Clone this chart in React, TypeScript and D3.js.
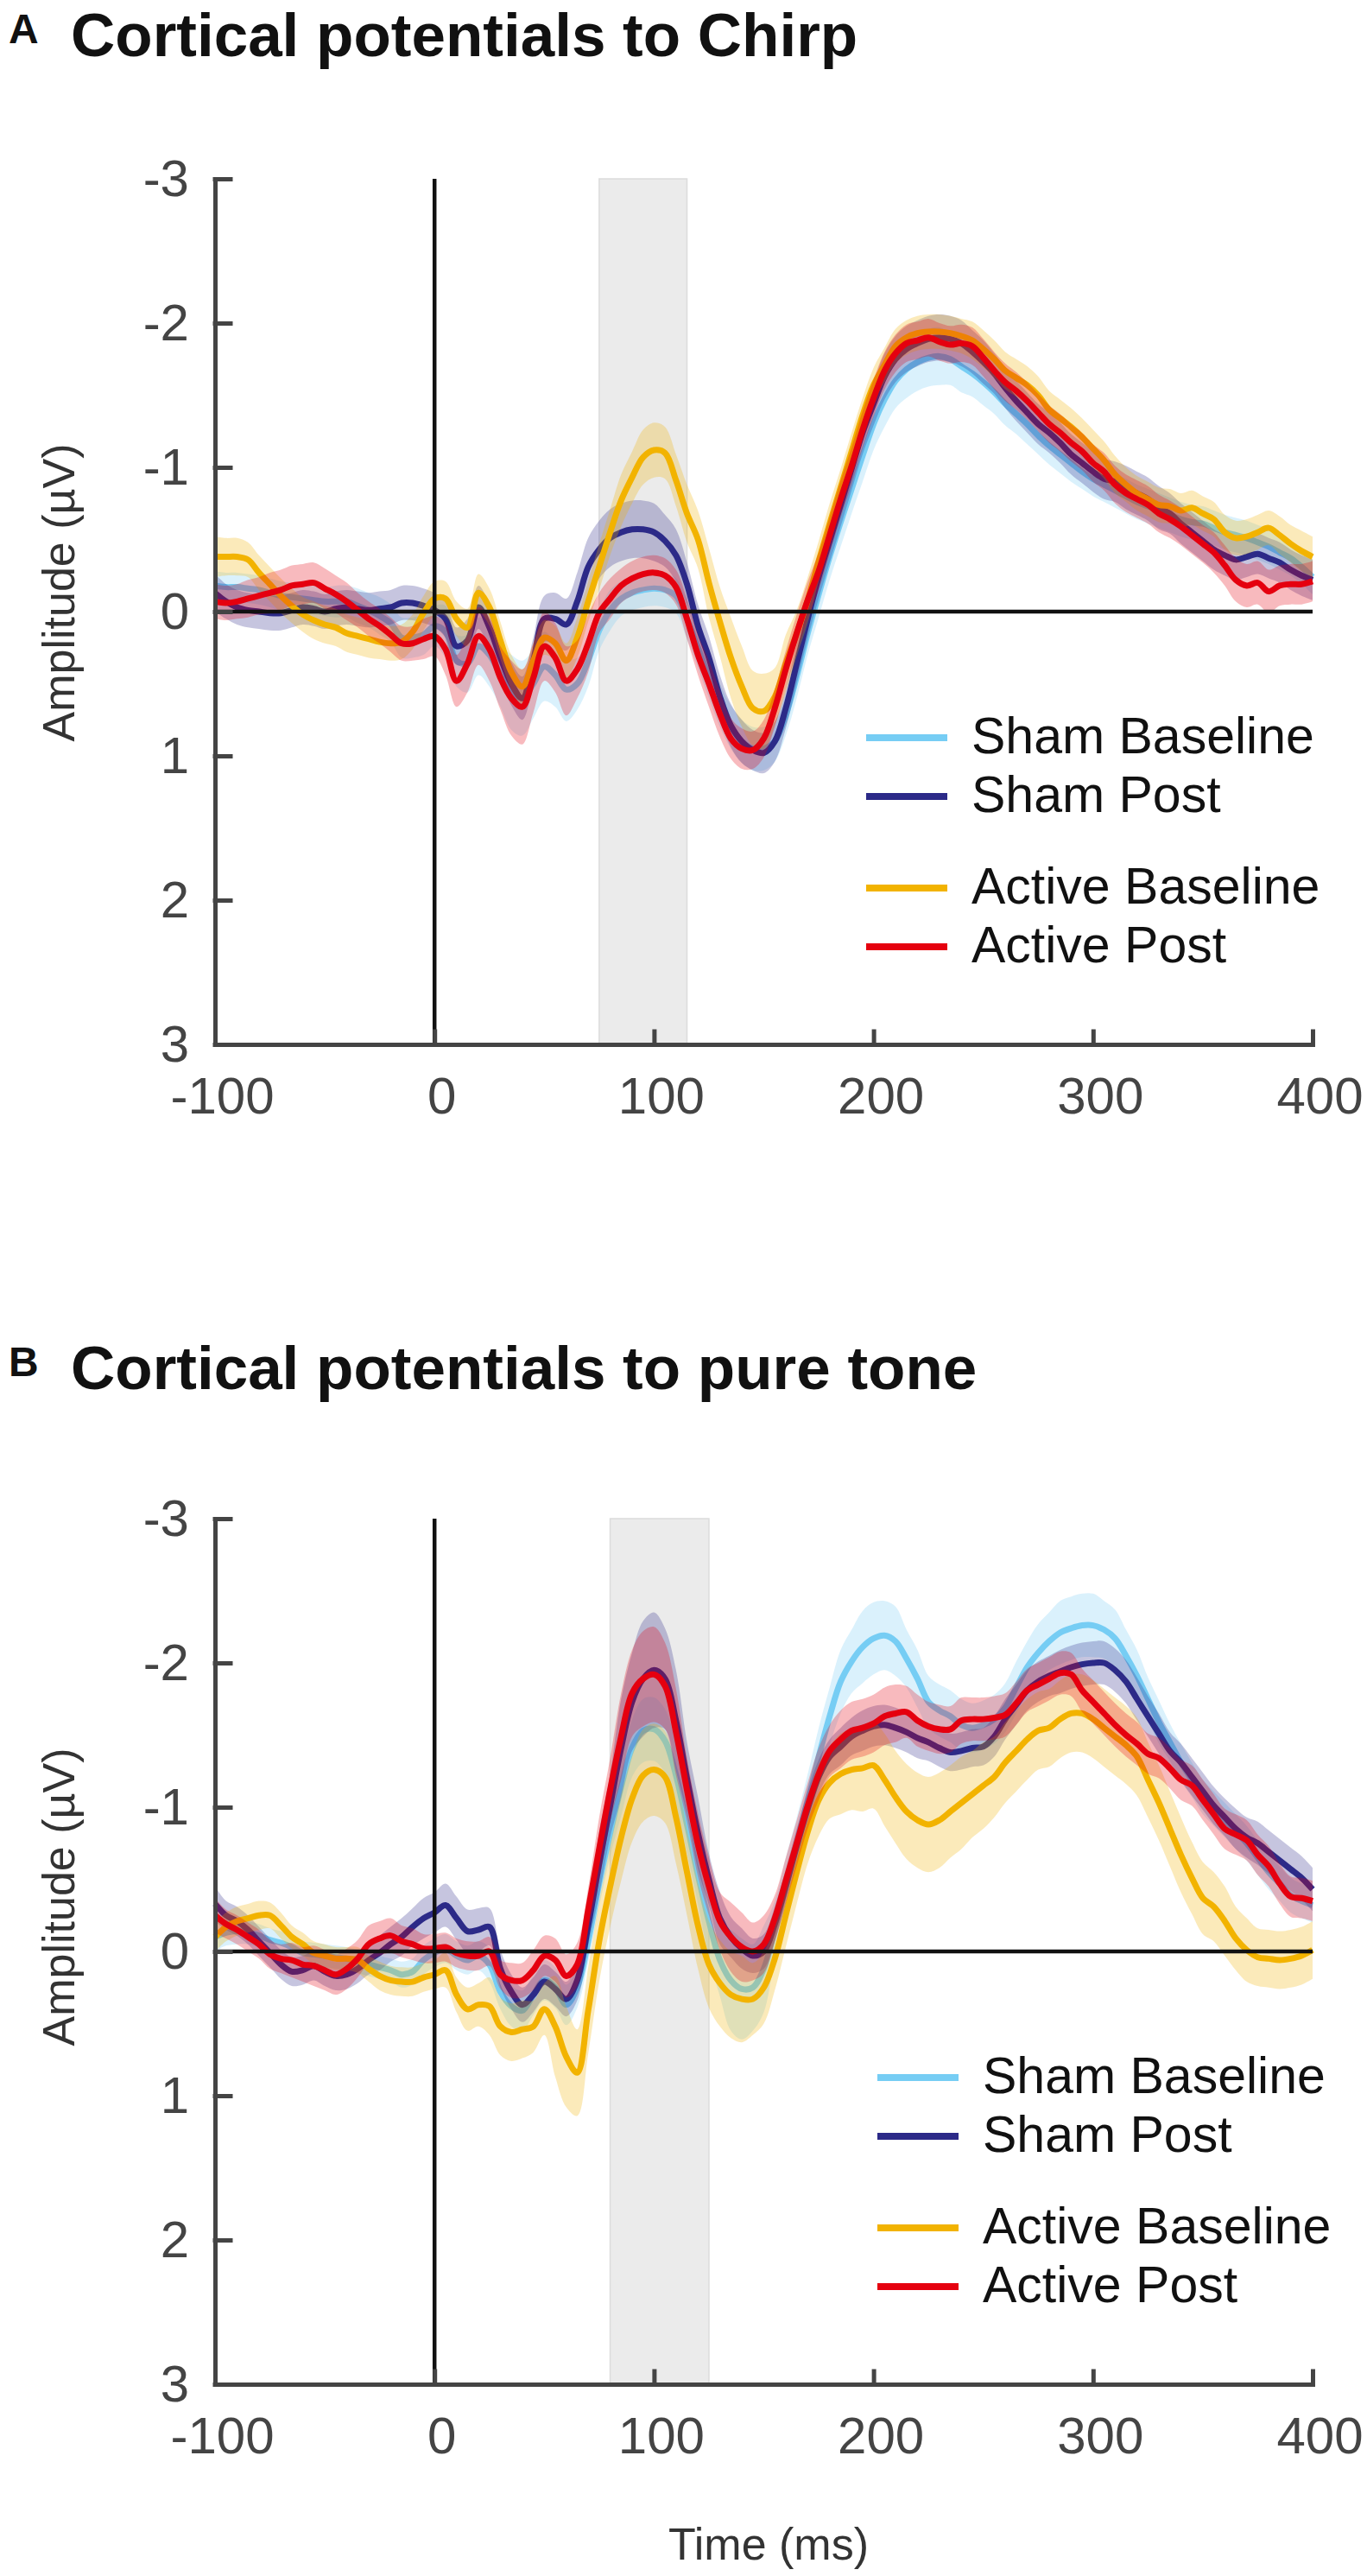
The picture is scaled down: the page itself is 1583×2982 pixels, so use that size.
import { useEffect, useRef } from 'react';
import * as d3 from 'd3';

const FONT = '"Liberation Sans", Arial, Helvetica, sans-serif';

// sample grid of the averaged waveforms (ms)
const time = d3.range(-100, 401, 5);

const seriesNames = ['Sham Baseline', 'Sham Post', 'Active Baseline', 'Active Post'];
const seriesColors = ['#76cdf4', '#2c2a88', '#f2b300', '#e5000f'];
const xTicks = [-100, 0, 100, 200, 300, 400];
const yTicks = [-3, -2, -1, 0, 1, 2, 3];

// ---- A: chirp ----
const shamBaselineA = [
  -0.18, -0.17, -0.17, -0.16, -0.15, -0.13, -0.11, -0.1, -0.09, -0.08,
  -0.07, -0.07, -0.07, -0.04, -0.01, 0.03, 0.08, 0.18, 0.18, 0.16,
  0.1, 0.14, 0.34, 0.36, 0.24, 0.3, 0.44, 0.56, 0.6, 0.5,
  0.38, 0.44, 0.54, 0.5, 0.34, 0.13, -0.01, -0.09, -0.13, -0.15,
  -0.16, -0.15, -0.11, 0.05, 0.25, 0.45, 0.65, 0.8, 0.9, 0.95,
  0.95, 0.9, 0.72, 0.45, 0.15, -0.12, -0.38, -0.62, -0.85, -1.08,
  -1.3, -1.47, -1.6, -1.68, -1.73, -1.76, -1.77, -1.75, -1.7, -1.65,
  -1.59, -1.52, -1.44, -1.37, -1.3, -1.22, -1.15, -1.09, -1.03, -0.97,
  -0.92, -0.88, -0.84, -0.8, -0.76, -0.73, -0.7, -0.67, -0.64, -0.62,
  -0.61, -0.58, -0.55, -0.53, -0.51, -0.48, -0.45, -0.41, -0.37, -0.31,
  -0.24,
];
const shamPostA = [
  -0.13, -0.07, -0.03, -0.01, 0, 0.01, 0.01, -0.01, -0.03, -0.02,
  0, -0.02, -0.03, -0.02, -0.01, -0.02, -0.03, -0.06, -0.06, -0.04,
  -0.01, 0.05, 0.24, 0.2, -0.03, 0.11, 0.32, 0.5, 0.6, 0.34,
  0.05, 0.05, 0.09, -0.07, -0.31, -0.43, -0.51, -0.55, -0.57, -0.57,
  -0.55, -0.49, -0.39, -0.19, 0.1, 0.32, 0.59, 0.79, 0.9, 0.96,
  0.98, 0.9, 0.67, 0.36, 0.05, -0.24, -0.49, -0.74, -0.99, -1.24,
  -1.44, -1.63, -1.75, -1.82, -1.86, -1.89, -1.9, -1.89, -1.86, -1.8,
  -1.73, -1.65, -1.55, -1.46, -1.38, -1.3, -1.24, -1.17, -1.09, -1.03,
  -0.97, -0.92, -0.9, -0.86, -0.82, -0.78, -0.72, -0.68, -0.61, -0.55,
  -0.49, -0.43, -0.39, -0.36, -0.38, -0.4, -0.37, -0.34, -0.29, -0.25,
  -0.22,
];
const activeBaselineA = [
  -0.38, -0.38, -0.38, -0.36, -0.27, -0.19, -0.11, -0.04, 0.02, 0.06,
  0.09, 0.11, 0.15, 0.17, 0.19, 0.21, 0.22, 0.21, 0.14, 0.01,
  -0.09, -0.09, 0.05, 0.11, -0.13, -0.03, 0.2, 0.42, 0.52, 0.34,
  0.18, 0.22, 0.34, 0.18, -0.07, -0.31, -0.55, -0.77, -0.93, -1.07,
  -1.12, -1.1, -0.91, -0.68, -0.5, -0.2, 0.07, 0.32, 0.52, 0.67,
  0.69, 0.59, 0.36, 0.15, -0.08, -0.35, -0.61, -0.86, -1.11, -1.36,
  -1.57, -1.71, -1.84, -1.9, -1.93, -1.94, -1.94, -1.93, -1.91, -1.88,
  -1.82, -1.75, -1.67, -1.62, -1.57, -1.5, -1.4, -1.34, -1.28, -1.21,
  -1.13, -1.05, -0.95, -0.88, -0.82, -0.78, -0.74, -0.73, -0.7, -0.72,
  -0.68, -0.64, -0.55, -0.51, -0.52, -0.55, -0.58, -0.53, -0.47, -0.42,
  -0.38,
];
const activePostA = [
  -0.07, -0.06, -0.07, -0.09, -0.11, -0.13, -0.15, -0.18, -0.19, -0.2,
  -0.16, -0.12, -0.07, -0.01, 0.05, 0.1, 0.16, 0.22, 0.22, 0.19,
  0.17, 0.26, 0.48, 0.36, 0.17, 0.26, 0.46, 0.6, 0.66, 0.46,
  0.24, 0.32, 0.48, 0.4, 0.22, 0.01, -0.09, -0.18, -0.23, -0.26,
  -0.27, -0.25, -0.17, 0.05, 0.3, 0.5, 0.71, 0.88, 0.95, 0.96,
  0.88, 0.67, 0.4, 0.15, -0.08, -0.28, -0.53, -0.78, -1.01, -1.26,
  -1.48, -1.67, -1.79, -1.86, -1.88, -1.9, -1.87, -1.85, -1.86, -1.84,
  -1.76, -1.67, -1.59, -1.53, -1.46, -1.38, -1.3, -1.24, -1.17, -1.11,
  -1.03, -0.97, -0.88, -0.82, -0.78, -0.74, -0.68, -0.64, -0.59, -0.53,
  -0.47, -0.41, -0.32, -0.22, -0.18, -0.2, -0.14, -0.18, -0.19, -0.19,
  -0.21,
];

// error band half-widths, every 10 ms from -100 to 400
const semShamBaselineA = [
  0.1, 0.1, 0.1, 0.1, 0.1, 0.1, 0.11, 0.12, 0.13, 0.14,
  0.14, 0.18, 0.2, 0.22, 0.26, 0.24, 0.22, 0.18, 0.14, 0.12,
  0.12, 0.12, 0.14, 0.15, 0.15, 0.15, 0.14, 0.15, 0.16, 0.17,
  0.18, 0.19, 0.2, 0.2, 0.18, 0.16, 0.15, 0.14, 0.13, 0.13,
  0.12, 0.12, 0.12, 0.12, 0.12, 0.12, 0.12, 0.12, 0.12, 0.12,
  0.12,
];
const semShamPostA = [
  0.13, 0.12, 0.12, 0.12, 0.12, 0.12, 0.12, 0.12, 0.12, 0.12,
  0.12, 0.13, 0.15, 0.16, 0.15, 0.16, 0.18, 0.2, 0.2, 0.2,
  0.2, 0.18, 0.15, 0.15, 0.15, 0.14, 0.14, 0.14, 0.15, 0.15,
  0.15, 0.16, 0.16, 0.16, 0.16, 0.15, 0.14, 0.14, 0.14, 0.14,
  0.14, 0.14, 0.15, 0.15, 0.14, 0.14, 0.14, 0.14, 0.14, 0.14,
  0.14,
];
const semActiveBaselineA = [
  0.14, 0.13, 0.12, 0.12, 0.12, 0.13, 0.13, 0.13, 0.12, 0.12,
  0.12, 0.12, 0.13, 0.13, 0.12, 0.12, 0.12, 0.14, 0.16, 0.18,
  0.19, 0.18, 0.2, 0.24, 0.28, 0.26, 0.2, 0.16, 0.14, 0.13,
  0.12, 0.12, 0.12, 0.12, 0.12, 0.13, 0.13, 0.13, 0.13, 0.13,
  0.13, 0.13, 0.12, 0.12, 0.12, 0.12, 0.12, 0.12, 0.12, 0.13,
  0.14,
];
const semActivePostA = [
  0.12, 0.12, 0.13, 0.14, 0.14, 0.14, 0.13, 0.12, 0.12, 0.12,
  0.14, 0.18, 0.2, 0.22, 0.26, 0.24, 0.24, 0.2, 0.14, 0.12,
  0.12, 0.12, 0.14, 0.16, 0.14, 0.13, 0.13, 0.13, 0.13, 0.13,
  0.13, 0.13, 0.13, 0.13, 0.13, 0.13, 0.13, 0.13, 0.13, 0.13,
  0.13, 0.13, 0.13, 0.13, 0.13, 0.13, 0.14, 0.15, 0.15, 0.14,
  0.14,
];

// ---- B: pure tone ----
const shamBaselineB = [
  -0.1, -0.13, -0.14, -0.13, -0.11, -0.08, -0.06, -0.03, 0.01, 0.02,
  0.03, 0.04, 0.05, 0.07, 0.09, 0.11, 0.13, 0.16, 0.14, 0.06,
  0.01, -0.02, 0.03, 0.06, 0.03, 0.09, 0.28, 0.38, 0.41, 0.3,
  0.2, 0.25, 0.37, 0.25, -0.07, -0.47, -0.82, -1.14, -1.41, -1.53,
  -1.54, -1.46, -1.22, -0.88, -0.53, -0.21, 0.06, 0.2, 0.26, 0.25,
  0.12, -0.15, -0.45, -0.75, -1.05, -1.35, -1.63, -1.87, -2.01, -2.11,
  -2.17, -2.19, -2.15, -2.03, -1.89, -1.73, -1.67, -1.63, -1.57, -1.55,
  -1.57, -1.61, -1.69, -1.83, -1.97, -2.07, -2.15, -2.21, -2.24, -2.26,
  -2.26, -2.23, -2.17, -2.05, -1.91, -1.75, -1.59, -1.45, -1.31, -1.19,
  -1.07, -0.99, -0.91, -0.83, -0.75, -0.65, -0.55, -0.47, -0.39, -0.35,
  -0.32,
];
const shamPostB = [
  -0.33, -0.25, -0.21, -0.15, -0.07, 0.01, 0.09, 0.14, 0.13, 0.1,
  0.14, 0.17, 0.16, 0.12, 0.06, 0.01, -0.05, -0.1, -0.17, -0.23,
  -0.27, -0.32, -0.23, -0.14, -0.15, -0.17, 0.12, 0.28, 0.37, 0.3,
  0.21, 0.26, 0.33, 0.2, -0.18, -0.61, -1.01, -1.41, -1.73, -1.89,
  -1.95, -1.89, -1.6, -1.2, -0.82, -0.5, -0.23, -0.1, -0.02, 0.03,
  0, -0.19, -0.45, -0.73, -0.99, -1.21, -1.35, -1.42, -1.49, -1.53,
  -1.56, -1.57, -1.55, -1.52, -1.48, -1.45, -1.41, -1.38, -1.39, -1.41,
  -1.42, -1.49, -1.61, -1.71, -1.81, -1.87, -1.91, -1.94, -1.97, -1.99,
  -2.0, -2.0, -1.95, -1.87, -1.75, -1.63, -1.51, -1.39, -1.31, -1.21,
  -1.11, -1.01, -0.93, -0.85, -0.79, -0.75, -0.69, -0.63, -0.57, -0.51,
  -0.43,
];
const activeBaselineB = [
  -0.1, -0.17, -0.21, -0.23, -0.25, -0.25, -0.18, -0.1, -0.05, 0.01,
  0.03, 0.05, 0.05, 0.06, 0.12, 0.17, 0.2, 0.21, 0.21, 0.18,
  0.16, 0.13, 0.3, 0.4, 0.37, 0.38, 0.52, 0.56, 0.54, 0.52,
  0.4, 0.52, 0.73, 0.84, 0.41, -0.07, -0.45, -0.79, -1.06, -1.22,
  -1.26, -1.21, -0.93, -0.55, -0.18, 0.09, 0.22, 0.3, 0.33, 0.33,
  0.25, 0.05, -0.25, -0.55, -0.83, -1.05, -1.17, -1.23, -1.26, -1.27,
  -1.29, -1.19, -1.07, -0.97, -0.91, -0.88, -0.91, -0.97, -1.03, -1.09,
  -1.15, -1.21, -1.31, -1.39, -1.47, -1.53, -1.55, -1.61, -1.65, -1.65,
  -1.61, -1.55, -1.49, -1.43, -1.35, -1.19, -1.03, -0.85, -0.67, -0.51,
  -0.37, -0.31, -0.21, -0.09, -0.01, 0.04, 0.05, 0.06, 0.05, 0.03,
  -0.01,
];
const activePostB = [
  -0.25, -0.19, -0.15, -0.1, -0.05, 0.02, 0.05, 0.06, 0.09, 0.1,
  0.13, 0.16, 0.12, 0.05, -0.05, -0.09, -0.11, -0.07, -0.05, -0.02,
  -0.02, -0.03, 0.01, 0.03, 0.03, 0, 0.16, 0.2, 0.2, 0.13,
  0.03, 0.06, 0.17, 0.09, -0.29, -0.71, -1.12, -1.49, -1.79, -1.89,
  -1.92, -1.84, -1.52, -1.12, -0.74, -0.45, -0.21, -0.1, -0.03, 0,
  -0.05, -0.23, -0.49, -0.75, -1.01, -1.23, -1.39, -1.47, -1.53, -1.55,
  -1.58, -1.63, -1.65, -1.66, -1.6, -1.56, -1.54, -1.54, -1.6, -1.61,
  -1.61, -1.62, -1.64, -1.72, -1.81, -1.85, -1.89, -1.93, -1.92, -1.81,
  -1.73, -1.65, -1.57, -1.5, -1.44, -1.37, -1.34, -1.27, -1.19, -1.15,
  -1.05, -0.95, -0.85, -0.81, -0.77, -0.67, -0.59, -0.47, -0.38, -0.37,
  -0.35,
];

const semShamBaselineB = [
  0.1, 0.09, 0.08, 0.08, 0.08, 0.08, 0.08, 0.08, 0.08, 0.09,
  0.1, 0.1, 0.1, 0.12, 0.14, 0.14, 0.14, 0.14, 0.16, 0.2,
  0.22, 0.22, 0.2, 0.25, 0.35, 0.3, 0.2, 0.18, 0.2, 0.22,
  0.25, 0.24, 0.2, 0.18, 0.18, 0.17, 0.17, 0.18, 0.2, 0.22,
  0.22, 0.2, 0.18, 0.15, 0.13, 0.12, 0.12, 0.12, 0.12, 0.12,
  0.12,
];
const semShamPostB = [
  0.12, 0.1, 0.1, 0.1, 0.1, 0.1, 0.1, 0.1, 0.12, 0.13,
  0.14, 0.15, 0.15, 0.13, 0.12, 0.12, 0.12, 0.14, 0.22, 0.34,
  0.4, 0.35, 0.25, 0.18, 0.14, 0.12, 0.12, 0.12, 0.12, 0.13,
  0.14, 0.14, 0.14, 0.13, 0.13, 0.13, 0.14, 0.14, 0.14, 0.15,
  0.15, 0.15, 0.15, 0.14, 0.13, 0.13, 0.13, 0.14, 0.15, 0.15,
  0.15,
];
const semActiveBaselineB = [
  0.1, 0.1, 0.1, 0.09, 0.08, 0.08, 0.08, 0.09, 0.1, 0.1,
  0.1, 0.12, 0.15, 0.2, 0.2, 0.18, 0.35, 0.3, 0.28, 0.3,
  0.32, 0.32, 0.3, 0.3, 0.3, 0.25, 0.22, 0.22, 0.25, 0.28,
  0.3, 0.32, 0.33, 0.33, 0.32, 0.3, 0.28, 0.28, 0.27, 0.27,
  0.27, 0.27, 0.27, 0.26, 0.26, 0.25, 0.24, 0.22, 0.2, 0.2,
  0.2,
];
const semActivePostB = [
  0.12, 0.1, 0.1, 0.1, 0.12, 0.14, 0.14, 0.13, 0.12, 0.11,
  0.1, 0.1, 0.1, 0.1, 0.12, 0.14, 0.15, 0.15, 0.22, 0.3,
  0.33, 0.3, 0.22, 0.2, 0.24, 0.2, 0.16, 0.16, 0.18, 0.2,
  0.2, 0.2, 0.18, 0.17, 0.16, 0.15, 0.15, 0.15, 0.15, 0.15,
  0.15, 0.15, 0.15, 0.14, 0.14, 0.14, 0.14, 0.14, 0.14, 0.14,
  0.14,
];

interface PanelProps {
  top: number;
  letter: string;
  title: string;
  titleY: number;
  means: number[][];
  sems: number[][];
  shade: [number, number];
  legendX: number;
  labelY: number;
  showTime?: boolean;
}

function Panel({ top, letter, title, titleY, means, sems, shade, legendX, labelY, showTime }: PanelProps) {
  const gRef = useRef<SVGGElement>(null);

  useEffect(() => {
    if (!gRef.current) return;
    const g = d3.select(gRef.current);
    g.selectAll('*').remove();

    const x = d3.scaleLinear().domain([-100, 400]).range([249, 1520]);
    const y = d3.scaleLinear().domain([-3, 3]).range([top, top + 1002]);

    // analysis window
    g.append('rect')
      .attr('x', x(shade[0]))
      .attr('width', x(shade[1]) - x(shade[0]))
      .attr('y', y(-3))
      .attr('height', y(3) - y(-3))
      .attr('fill', '#ebebeb')
      .attr('stroke', '#dcdcdc')
      .attr('stroke-width', 1.5);

    // each condition: shaded error band, then its mean
    means.forEach((mean, k) => {
      const sem = sems[k];
      const band = d3
        .area<number>()
        .x((_, i) => x(time[i]))
        .y0((d, i) => y(d - sem[Math.round(i / 2)]))
        .y1((d, i) => y(d + sem[Math.round(i / 2)]))
        .curve(d3.curveCatmullRom);
      g.append('path')
        .datum(mean)
        .attr('d', band)
        .attr('fill', seriesColors[k])
        .attr('fill-opacity', 0.27);

      const line = d3
        .line<number>()
        .x((_, i) => x(time[i]))
        .y((d) => y(d))
        .curve(d3.curveCatmullRom);
      g.append('path')
        .datum(mean)
        .attr('d', line)
        .attr('fill', 'none')
        .attr('stroke', seriesColors[k])
        .attr('stroke-width', 7)
        .attr('stroke-linejoin', 'round');
    });

    // zero reference lines
    g.append('line')
      .attr('x1', x(-100)).attr('x2', x(400))
      .attr('y1', y(0)).attr('y2', y(0))
      .attr('stroke', '#111').attr('stroke-width', 4.5);
    g.append('line')
      .attr('x1', x(0)).attr('x2', x(0))
      .attr('y1', y(-3)).attr('y2', y(3))
      .attr('stroke', '#111').attr('stroke-width', 4.5);

    // axes
    const yAxis = g
      .append('g')
      .attr('transform', `translate(${x(-100)},0)`)
      .call(
        d3.axisLeft(y).tickValues(yTicks).tickSize(-18).tickSizeOuter(0)
          .tickPadding(30).tickFormat((d) => String(d))
      );
    const xAxis = g
      .append('g')
      .attr('transform', `translate(0,${y(3)})`)
      .call(
        d3.axisBottom(x).tickValues(xTicks).tickSize(-15).tickSizeOuter(0)
          .tickPadding(37).tickFormat((d) => String(d))
      );
    xAxis.selectAll('text').attr('dx', 8);
    [yAxis, xAxis].forEach((a) => {
      a.attr('font-family', FONT).attr('font-size', 60).attr('color', '#444');
      a.selectAll('.domain, .tick line')
        .attr('stroke-width', 5)
        .attr('stroke-linecap', 'square');
    });

    // titles
    g.append('text')
      .attr('x', 10).attr('y', titleY - 15)
      .attr('font-family', FONT).attr('font-size', 48).attr('font-weight', 'bold')
      .attr('fill', '#111').text(letter);
    g.append('text')
      .attr('x', 82).attr('y', titleY)
      .attr('font-family', FONT).attr('font-size', 71).attr('font-weight', 'bold')
      .attr('fill', '#111').text(title);

    g.append('text')
      .attr('transform', `translate(86,${labelY}) rotate(-90)`)
      .attr('text-anchor', 'middle')
      .attr('font-family', FONT).attr('font-size', 52)
      .attr('fill', '#333').text('Amplitude (µV)');

    if (showTime) {
      g.append('text')
        .attr('x', 890).attr('y', y(3) + 203)
        .attr('text-anchor', 'middle')
        .attr('font-family', FONT).attr('font-size', 52)
        .attr('fill', '#333').text('Time (ms)');
    }

    // legend
    const legendRows = [647, 715, 821, 889];
    seriesNames.forEach((name, k) => {
      const ly = top + legendRows[k];
      g.append('line')
        .attr('x1', legendX).attr('x2', legendX + 94)
        .attr('y1', ly).attr('y2', ly)
        .attr('stroke', seriesColors[k]).attr('stroke-width', 8);
      g.append('text')
        .attr('x', legendX + 122).attr('y', ly + 18)
        .attr('font-family', FONT).attr('font-size', 59)
        .attr('fill', '#111').text(name);
    });
  }, [top, letter, title, titleY, means, sems, shade, legendX, labelY, showTime]);

  return <g ref={gRef} />;
}

export default function App() {
  return (
    <svg
      width={1583}
      height={2982}
      viewBox="0 0 1583 2982"
      style={{ position: 'absolute', left: 0, top: 0, background: '#fff' }}
    >
      <Panel
        top={207}
        letter="A"
        title="Cortical potentials to Chirp"
        titleY={65}
        means={[shamBaselineA, shamPostA, activeBaselineA, activePostA]}
        sems={[semShamBaselineA, semShamPostA, semActiveBaselineA, semActivePostA]}
        shade={[75, 115]}
        legendX={1003}
        labelY={686}
      />
      <Panel
        top={1758}
        letter="B"
        title="Cortical potentials to pure tone"
        titleY={1608}
        means={[shamBaselineB, shamPostB, activeBaselineB, activePostB]}
        sems={[semShamBaselineB, semShamPostB, semActiveBaselineB, semActivePostB]}
        shade={[80, 125]}
        legendX={1016}
        labelY={2196}
        showTime
      />
    </svg>
  );
}
